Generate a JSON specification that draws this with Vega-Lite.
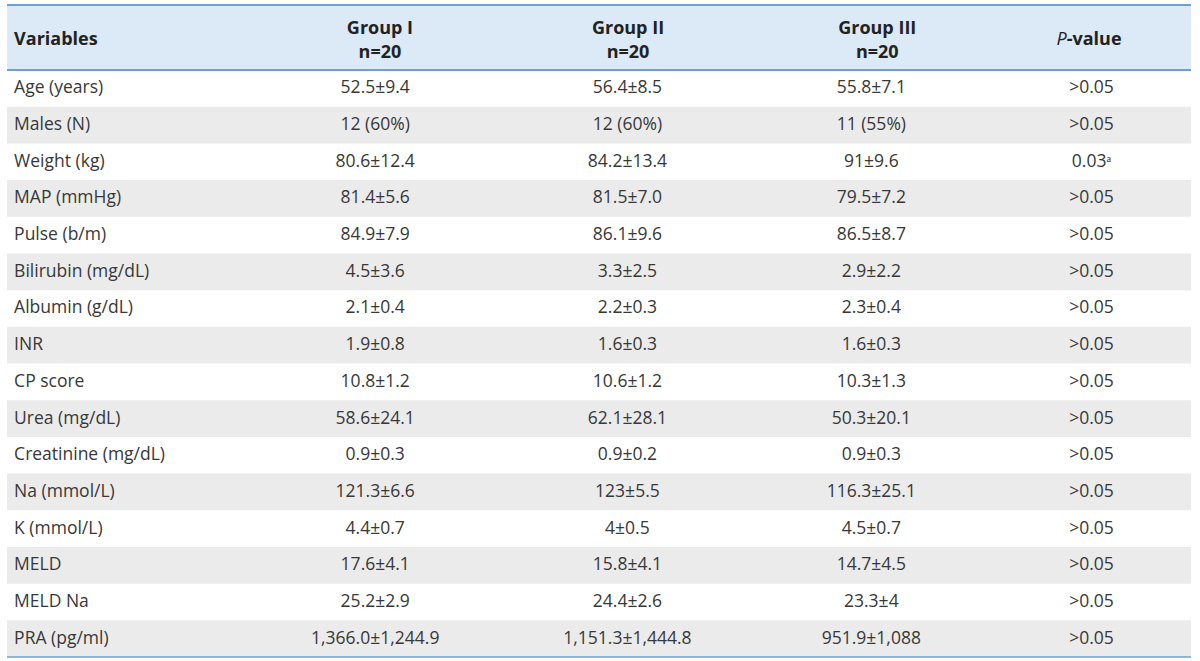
{
  "$schema": "https://vega.github.io/schema/vega-lite/v6.json",
  "width": 1200,
  "height": 661,
  "autosize": {"type": "fit", "contains": "padding"},
  "padding": {"left": 6, "right": 8, "top": 0, "bottom": 0},
  "background": "white",
  "config": {
    "view": {"stroke": null},
    "text": {"font": "Open Sans", "fontSize": 17.5, "color": "#383838"}
  },
  "datasets": {
    "header": [
      {"col": "Variables", "label": "Variables"},
      {"col": "Group I", "label": "Group I\nn=20"},
      {"col": "Group II", "label": "Group II\nn=20"},
      {"col": "Group III", "label": "Group III\nn=20"}
    ],
    "body": [
      {"variable": "Age (years)", "g1": "52.5±9.4", "g2": "56.4±8.5", "g3": "55.8±7.1", "p": ">0.05"},
      {"variable": "Males (N)", "g1": "12 (60%)", "g2": "12 (60%)", "g3": "11 (55%)", "p": ">0.05"},
      {"variable": "Weight (kg)", "g1": "80.6±12.4", "g2": "84.2±13.4", "g3": "91±9.6", "p": "0.03ᵃ"},
      {"variable": "MAP (mmHg)", "g1": "81.4±5.6", "g2": "81.5±7.0", "g3": "79.5±7.2", "p": ">0.05"},
      {"variable": "Pulse (b/m)", "g1": "84.9±7.9", "g2": "86.1±9.6", "g3": "86.5±8.7", "p": ">0.05"},
      {"variable": "Bilirubin (mg/dL)", "g1": "4.5±3.6", "g2": "3.3±2.5", "g3": "2.9±2.2", "p": ">0.05"},
      {"variable": "Albumin (g/dL)", "g1": "2.1±0.4", "g2": "2.2±0.3", "g3": "2.3±0.4", "p": ">0.05"},
      {"variable": "INR", "g1": "1.9±0.8", "g2": "1.6±0.3", "g3": "1.6±0.3", "p": ">0.05"},
      {"variable": "CP score", "g1": "10.8±1.2", "g2": "10.6±1.2", "g3": "10.3±1.3", "p": ">0.05"},
      {"variable": "Urea (mg/dL)", "g1": "58.6±24.1", "g2": "62.1±28.1", "g3": "50.3±20.1", "p": ">0.05"},
      {"variable": "Creatinine (mg/dL)", "g1": "0.9±0.3", "g2": "0.9±0.2", "g3": "0.9±0.3", "p": ">0.05"},
      {"variable": "Na (mmol/L)", "g1": "121.3±6.6", "g2": "123±5.5", "g3": "116.3±25.1", "p": ">0.05"},
      {"variable": "K (mmol/L)", "g1": "4.4±0.7", "g2": "4±0.5", "g3": "4.5±0.7", "p": ">0.05"},
      {"variable": "MELD", "g1": "17.6±4.1", "g2": "15.8±4.1", "g3": "14.7±4.5", "p": ">0.05"},
      {"variable": "MELD Na", "g1": "25.2±2.9", "g2": "24.4±2.6", "g3": "23.3±4", "p": ">0.05"},
      {"variable": "PRA (pg/ml)", "g1": "1,366.0±1,244.9", "g2": "1,151.3±1,444.8", "g3": "951.9±1,088", "p": ">0.05"}
    ]
  },
  "resolve": {"scale": {"y": "independent"}},
  "encoding": {
    "x": {"type": "quantitative", "scale": {"domain": [0, 100], "nice": false, "zero": false}, "axis": null}
  },
  "layer": [
    {
      "data": {"name": "header"},
      "layer": [
        {
          "mark": {"type": "rect", "color": "#dce9f6"},
          "encoding": {
            "x": null,
            "y": {"datum": 0, "type": "quantitative", "scale": {"domain": [0, 1], "range": [5, 70]}, "axis": null},
            "y2": {"datum": 1}
          }
        },
        {
          "mark": {"type": "rule", "color": "#6f9fd6", "strokeWidth": 1.5},
          "encoding": {"x": null, "y": {"datum": 0, "type": "quantitative"}}
        },
        {
          "mark": {"type": "rule", "color": "#6f9fd6", "strokeWidth": 1.5},
          "encoding": {"x": null, "y": {"datum": 1, "type": "quantitative"}}
        },
        {
          "transform": [{"filter": "datum.col === 'Variables'"}],
          "mark": {"type": "text", "align": "left", "baseline": "middle", "fontWeight": "bold", "fontSize": 18, "color": "#222222"},
          "encoding": {
            "x": {"datum": 0.6, "type": "quantitative"},
            "y": {"datum": 0.54, "type": "quantitative"},
            "text": {"field": "label"}
          }
        },
        {
          "transform": [{"filter": "datum.col === 'Group I'"}],
          "mark": {"type": "text", "align": "center", "baseline": "middle", "fontWeight": "bold", "fontSize": 18, "color": "#222222", "lineBreak": "\n", "lineHeight": 24},
          "encoding": {
            "x": {"datum": 31.5, "type": "quantitative"},
            "y": {"datum": 0.37, "type": "quantitative"},
            "text": {"field": "label"}
          }
        },
        {
          "transform": [{"filter": "datum.col === 'Group II'"}],
          "mark": {"type": "text", "align": "center", "baseline": "middle", "fontWeight": "bold", "fontSize": 18, "color": "#222222", "lineBreak": "\n", "lineHeight": 24},
          "encoding": {
            "x": {"datum": 52.45, "type": "quantitative"},
            "y": {"datum": 0.37, "type": "quantitative"},
            "text": {"field": "label"}
          }
        },
        {
          "transform": [{"filter": "datum.col === 'Group III'"}],
          "mark": {"type": "text", "align": "center", "baseline": "middle", "fontWeight": "bold", "fontSize": 18, "color": "#222222", "lineBreak": "\n", "lineHeight": 24},
          "encoding": {
            "x": {"datum": 73.5, "type": "quantitative"},
            "y": {"datum": 0.37, "type": "quantitative"},
            "text": {"field": "label"}
          }
        },
        {
          "transform": [{"filter": "datum.col === 'Variables'"}],
          "mark": {"type": "text", "align": "right", "baseline": "middle", "fontStyle": "italic", "fontSize": 18, "color": "#222222"},
          "encoding": {
            "x": {"datum": 89.5, "type": "quantitative"},
            "y": {"datum": 0.54, "type": "quantitative"},
            "text": {"value": "P"}
          }
        },
        {
          "transform": [{"filter": "datum.col === 'Variables'"}],
          "mark": {"type": "text", "align": "left", "baseline": "middle", "fontWeight": "bold", "fontSize": 18, "color": "#222222"},
          "encoding": {
            "x": {"datum": 89.5, "type": "quantitative"},
            "y": {"datum": 0.54, "type": "quantitative"},
            "text": {"value": "-value"}
          }
        }
      ]
    },
    {
      "data": {"name": "body"},
      "layer": [
        {
          "transform": [
            {"window": [{"op": "row_number", "as": "rn"}]},
            {"filter": "datum.rn % 2 === 0"}
          ],
          "mark": {"type": "rect", "color": "#ebebeb"},
          "encoding": {
            "x": null,
            "y": {"field": "variable", "type": "nominal", "scale": {"domain": ["Age (years)", "Males (N)", "Weight (kg)", "MAP (mmHg)", "Pulse (b/m)", "Bilirubin (mg/dL)", "Albumin (g/dL)", "INR", "CP score", "Urea (mg/dL)", "Creatinine (mg/dL)", "Na (mmol/L)", "K (mmol/L)", "MELD", "MELD Na", "PRA (pg/ml)"], "range": [70, 657], "paddingInner": 0, "paddingOuter": 0}, "axis": null}
          }
        },
        {
          "transform": [{"filter": "datum.variable === 'PRA (pg/ml)'"}],
          "mark": {"type": "rule", "color": "#6f9fd6", "strokeWidth": 1.5},
          "encoding": {
            "x": null,
            "y": {"field": "variable", "type": "nominal", "bandPosition": 1}
          }
        },
        {
          "mark": {"type": "text", "align": "left", "baseline": "middle"},
          "encoding": {
            "x": {"datum": 0.6, "type": "quantitative"},
            "y": {"field": "variable", "type": "nominal"},
            "text": {"field": "variable"}
          }
        },
        {
          "mark": {"type": "text", "align": "center", "baseline": "middle"},
          "encoding": {
            "x": {"datum": 31.1, "type": "quantitative"},
            "y": {"field": "variable", "type": "nominal"},
            "text": {"field": "g1"}
          }
        },
        {
          "mark": {"type": "text", "align": "center", "baseline": "middle"},
          "encoding": {
            "x": {"datum": 52.4, "type": "quantitative"},
            "y": {"field": "variable", "type": "nominal"},
            "text": {"field": "g2"}
          }
        },
        {
          "mark": {"type": "text", "align": "center", "baseline": "middle"},
          "encoding": {
            "x": {"datum": 73.0, "type": "quantitative"},
            "y": {"field": "variable", "type": "nominal"},
            "text": {"field": "g3"}
          }
        },
        {
          "mark": {"type": "text", "align": "center", "baseline": "middle"},
          "encoding": {
            "x": {"datum": 91.6, "type": "quantitative"},
            "y": {"field": "variable", "type": "nominal"},
            "text": {"field": "p"}
          }
        }
      ]
    }
  ]
}
